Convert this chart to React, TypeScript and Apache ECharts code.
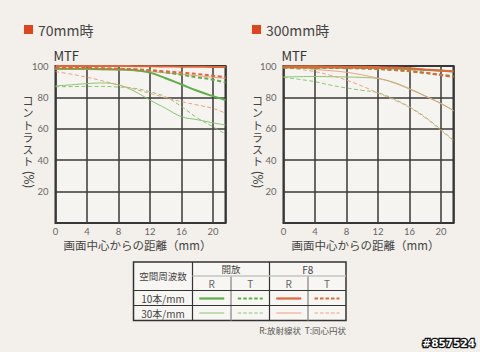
import React, { useEffect, useRef } from "react";
import * as echarts from "echarts";

// distance from image centre (mm)
const xs = [0, 2, 4, 6, 8, 10, 12, 14, 16, 18, 20, 21.6];
const xTicks = [0, 4, 8, 12, 16, 20];
const yTicks = [20, 40, 60, 80, 100];

// 70mm
const w70_open10R = [98.3, 98.3, 98.2, 98, 97.8, 97.4, 95.8, 92.2, 88.2, 84.2, 80.8, 78.3];
const w70_open10T = [98.6, 98.6, 98.5, 98.4, 98.2, 97.9, 97.3, 96, 94.4, 92.8, 91.3, 89.4];
const w70_f810R = [100, 100, 100, 100, 100, 99.9, 99.8, 99.7, 99.6, 99.5, 99.4, 99.3];
const w70_f810T = [98.8, 98.8, 98.7, 98.5, 98.2, 97.8, 97.2, 96.6, 95.8, 94.9, 93.8, 92.8];
const w70_open30R = [87.3, 88, 88.8, 89.2, 88, 84, 78.3, 73, 67.7, 65.8, 63.8, 62.4];
const w70_open30T = [86.8, 86.9, 87, 87, 86.6, 85.8, 83.6, 80.3, 74.2, 67, 61.3, 56.7];
const w70_f830R = [97.8, 97.8, 97.7, 97.6, 97.4, 97, 96.4, 95.6, 94.8, 93.8, 92.8, 92.1];
const w70_f830T = [96.4, 94.8, 92.8, 90.5, 87.9, 85.3, 82.6, 79.8, 77.3, 75.2, 73, 69.9];

// 300mm
const t300_open10R = [99, 99, 99, 99, 98.9, 98.8, 98.6, 98.4, 98, 97.5, 97, 96.5];
const t300_open10T = [99, 99, 98.9, 98.8, 98.6, 98.4, 98, 97.4, 96.6, 95.6, 94.4, 93.5];
const t300_f810R = [99.8, 99.8, 99.8, 99.7, 99.6, 99.5, 99.3, 99, 98.5, 97.8, 97.2, 96.6];
const t300_f810T = [99, 99, 99, 98.9, 98.8, 98.6, 98.2, 97.6, 96.8, 95.6, 94.2, 93];
const t300_open30R = [93, 93.2, 93.3, 93.2, 93, 92.7, 92, 89.6, 85.6, 81, 76.2, 71.7];
const t300_open30T = [92.8, 91.5, 90, 87.8, 86, 84.5, 83, 79, 74, 67.5, 59.5, 52.8];
const t300_f830R = [99.5, 98.9, 97.8, 97, 96, 94.3, 92.2, 89.3, 85.3, 80.8, 76, 71.5];
const t300_f830T = [99, 97.8, 96.4, 94, 91, 87.2, 82.8, 78.5, 73.6, 67, 59, 52.4];

const panelTitles = ["70mm時", "300mm時"];
const yNameKana = "コントラスト";
const yNameUnit = "(%)";
const xName = "画面中心からの距離（mm）";
const legendHead = ["空間周波数", "開放", "F8", "R", "T"];
const legendRows = ["10本/mm", "30本/mm"];
const footNote = "R:放射線状  T:同心円状";
const stamp = "#857524";

const FONT = "'Noto Sans CJK JP', 'Noto Sans', sans-serif";
const NUMFONT = "Lato, 'Noto Sans', sans-serif";
const G_THICK = "#5fae4b";
const G_THIN = "#86c672";
const O_THICK = "#e0673b";
const O_THIN = "#eea07e";

const zip = (ys: number[]) => xs.map((x, i) => [x, ys[i]]);

export default function App() {
  const ref = useRef<HTMLDivElement>(null);
  useEffect(() => {
    if (!ref.current) return;
    const chart = echarts.init(ref.current, null, { renderer: "svg" });
    const grids = [
      { left: 55.5, top: 66, width: 170, height: 157 },
      { left: 283.5, top: 66, width: 170, height: 157 },
    ];
    const mkX = (gi: number) => ({
      type: "value",
      gridIndex: gi,
      min: 0,
      max: 21.6,
      interval: 4,
      axisLine: { show: false },
      axisTick: { show: false },
      axisLabel: {
        fontSize: 9.5,
        lineHeight: 9,
        color: "#666",
        margin: 4,
        fontFamily: NUMFONT,
        showMaxLabel: false,
        formatter: (v: number) => (xTicks.includes(v) ? String(v) : ""),
      },
      splitLine: { lineStyle: { color: "#3a3a3a", width: 1.5 } },
    });
    const mkY = (gi: number) => ({
      type: "value",
      gridIndex: gi,
      min: 0,
      max: 100,
      interval: 20,
      axisLine: { show: false },
      axisTick: { show: false },
      axisLabel: {
        fontSize: 9.5,
        color: "#666",
        margin: 7,
        fontFamily: NUMFONT,
        formatter: (v: number) => (yTicks.includes(v) ? String(v) : ""),
      },
      splitLine: { lineStyle: { color: "#3a3a3a", width: 1.5 } },
    });
    const line = (gi: number, data: number[], color: string, thick: boolean, dashed: boolean) => ({
      type: "line",
      xAxisIndex: gi,
      yAxisIndex: gi,
      data: zip(data),
      smooth: 0.4,
      showSymbol: false,
      symbol: "none",
      lineStyle: { color, width: thick ? 2 : 1, type: dashed ? [4, 2.5] : "solid" },
      z: 3,
    });
    const series = [
      line(0, w70_open30R, G_THIN, false, false),
      line(0, w70_open30T, G_THIN, false, true),
      line(0, w70_f830R, O_THIN, false, false),
      line(0, w70_f830T, O_THIN, false, true),
      line(0, w70_open10R, G_THICK, true, false),
      line(0, w70_open10T, G_THICK, true, true),
      line(0, w70_f810R, O_THICK, true, false),
      line(0, w70_f810T, O_THICK, true, true),
      line(1, t300_open30R, G_THIN, false, false),
      line(1, t300_open30T, G_THIN, false, true),
      line(1, t300_f830R, O_THIN, false, false),
      line(1, t300_f830T, O_THIN, false, true),
      line(1, t300_open10R, G_THICK, true, false),
      line(1, t300_open10T, G_THICK, true, true),
      line(1, t300_f810R, O_THICK, true, false),
      line(1, t300_f810T, O_THICK, true, true),
    ];

    const txt = (x: number, y: number, text: string, size: number, fill: string, align = "left", extra: any = {}, vAlign = "middle", lh?: number) => ({
      type: "text",
      x,
      y,
      silent: true,
      style: { text, fontSize: size, fill, fontFamily: FONT, align, verticalAlign: vAlign, lineHeight: lh ?? size },
      ...extra,
    });
    const seg = (x1: number, y1: number, x2: number, y2: number, stroke: string, lineWidth: number, dash?: number[]) => ({
      type: "line",
      silent: true,
      shape: { x1, y1, x2, y2 },
      style: { stroke, lineWidth, lineDash: dash },
    });

    const graphic: any[] = [];
    [0, 1].forEach((i) => {
      const gx = grids[i].left;
      const sq = i === 0 ? 24 : 252;
      graphic.push({ type: "rect", shape: { x: sq, y: 25, width: 9, height: 9 }, style: { fill: "#e0441c" } });
      graphic.push(txt(sq + 14, 30, panelTitles[i], 14, "#444"));
      graphic.push(txt(gx - 2, 55, "MTF", 13, "#333"));
      const cx = gx - (i === 0 ? 27.5 : 26);
      graphic.push(txt(cx, 94, yNameKana.split("").join("\n"), 11, "#444", "center", {}, "top", 12.2));
      graphic.push({
        type: "text",
        x: cx,
        y: 179.5,
        rotation: -Math.PI / 2,
        silent: true,
        style: { text: yNameUnit, fontSize: 12.5, fill: "#444", fontFamily: NUMFONT, align: "center", verticalAlign: "middle", lineHeight: 12 },
      });
      graphic.push(txt(gx + 82, 245, xName, 11.5, "#444", "center"));
    });

    // legend table
    const L = 133.5, R = 346, T = 262, B = 320.5;
    const c1 = 192.5, c2 = 269.5, cRT1 = 231, cRT2 = 308;
    const r1 = 276, r2 = 290.5, r3 = 305.5;
    graphic.push({ type: "rect", shape: { x: L, y: T, width: R - L, height: B - T }, style: { fill: "#f8f6f3", stroke: "#333", lineWidth: 1.5 } });
    graphic.push(seg(c1, T, c1, B, "#333", 1.2));
    graphic.push(seg(c2, T, c2, B, "#333", 1.2));
    graphic.push(seg(cRT1, r1, cRT1, B, "#999", 1.5));
    graphic.push(seg(cRT2, r1, cRT2, B, "#999", 1.5));
    graphic.push(seg(c1, r1, R, r1, "#c4c4c4", 1.5));
    graphic.push(seg(L, r2, R, r2, "#333", 1.2));
    graphic.push(seg(L, r3, R, r3, "#333", 1));
    graphic.push(txt((L + c1) / 2, (T + r2) / 2, legendHead[0], 9.5, "#444", "center"));
    graphic.push(txt((c1 + c2) / 2, (T + r1) / 2, legendHead[1], 9.5, "#444", "center"));
    graphic.push(txt((c2 + R) / 2, (T + r1) / 2, legendHead[2], 10, "#444", "center"));
    [
      [(c1 + cRT1) / 2, legendHead[3]],
      [(cRT1 + c2) / 2, legendHead[4]],
      [(c2 + cRT2) / 2, legendHead[3]],
      [(cRT2 + R) / 2, legendHead[4]],
    ].forEach(([x, t]) => graphic.push(txt(x as number, (r1 + r2) / 2 + 0.5, t as string, 10, "#666", "center")));
    graphic.push(txt((L + c1) / 2, (r2 + r3) / 2, legendRows[0], 10, "#444", "center"));
    graphic.push(txt((L + c1) / 2, (r3 + B) / 2, legendRows[1], 10, "#444", "center"));
    const cols = [
      [c1, cRT1, G_THICK, G_THIN, false],
      [cRT1, c2, G_THICK, G_THIN, true],
      [c2, cRT2, O_THICK, O_THIN, false],
      [cRT2, R, O_THICK, O_THIN, true],
    ] as const;
    cols.forEach(([a, b, ct, cn, d]) => {
      const mid = (a + b) / 2;
      graphic.push(seg(mid - 12.5, (r2 + r3) / 2 + 0.5, mid + 12.5, (r2 + r3) / 2 + 0.5, ct, 2.2, d ? [3.5, 2] : undefined));
      graphic.push(seg(mid - 12.5, (r3 + B) / 2, mid + 12.5, (r3 + B) / 2, cn, 1, d ? [3.5, 2] : undefined));
    });
    graphic.push(txt(R, 330, footNote, 8.5, "#555", "right"));
    graphic.push({
      type: "text",
      x: 475,
      y: 343,
      style: {
        text: stamp,
        fontSize: 10.5,
        fontWeight: "bold",
        fontFamily: "'DejaVu Sans', sans-serif",
        fill: "#ffffff",
        stroke: "#111",
        lineWidth: 2.5,
        align: "right",
        verticalAlign: "middle",
      },
    });

    chart.setOption({
      animation: false,
      backgroundColor: "#f3f0eb",
      grid: grids.map((g) => ({ ...g, show: true, borderColor: "#2e2e2e", borderWidth: 2, backgroundColor: "#f6f4f0" })),
      xAxis: [mkX(0), mkX(1)],
      yAxis: [mkY(0), mkY(1)],
      series,
      graphic,
    });
    return () => chart.dispose();
  }, []);
  return <div ref={ref} style={{ position: "fixed", left: 0, top: 0, width: 480, height: 352 }} />;
}
